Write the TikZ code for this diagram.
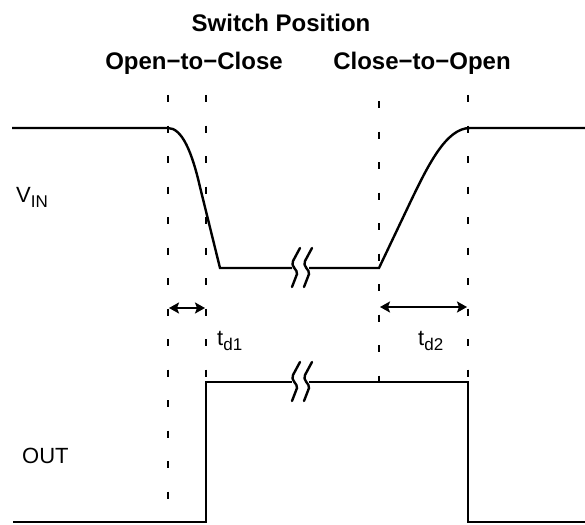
\documentclass[tikz,border=0pt]{standalone}
\usepackage{fontspec}
\setmainfont{Liberation Sans}
\usetikzlibrary{arrows.meta}
\begin{document}
\begin{tikzpicture}[x=1pt,y=-1pt,
  sig/.style={line width=2.4pt, line join=miter},
  guide/.style={line width=2pt, dash pattern=on 7pt off 23.5pt},
  brk/.style={line width=2.4pt, line cap=round},
  dimarrow/.style={line width=2.4pt, {Stealth[length=10pt,width=11pt,inset=2pt]}-{Stealth[length=10pt,width=11pt,inset=2pt]}},
  title/.style={font=\bfseries\fontsize{24}{28}\selectfont, inner sep=0pt},
  lbl/.style={font=\fontsize{22}{26}\selectfont, inner sep=0pt, anchor=base west}
]
\useasboundingbox (0,0) rectangle (585,524);
\newcommand{\sbx}[1]{\raisebox{-5pt}{\fontsize{17}{20}\selectfont #1}}
% titles
\node[title, anchor=base] (tsw) at (281,32) {Switch Position};
\node[title, anchor=base] (toc) at (194,70) {Open−to−Close};
\node[title, anchor=base] (tco) at (422,70) {Close−to−Open};
% labels
\node[lbl] (vin) at (16,202) {V\sbx{IN}};
\node[lbl] (out) at (22,463) {OUT};
\node[lbl] (td1) at (217,345) {t\sbx{d1}};
\node[lbl] (td2) at (418,345) {t\sbx{d2}};
% guide coordinates
\coordinate (g1t) at (168,95);  \coordinate (g1b) at (168,522);
\coordinate (g2t) at (206,95);  \coordinate (g2b) at (206,382);
\coordinate (g3t) at (379,101); \coordinate (g3b) at (379,382);
\coordinate (g4t) at (468,95);  \coordinate (g4b) at (468,382);
\draw[guide] (g1t) -- (g1b);
\draw[guide] (g2t) -- (g2b);
\draw[guide] (g3t) -- (g3b);
\draw[guide] (g4t) -- (g4b);
% VIN waveform
\coordinate (vs) at (12,128);
\coordinate (vf) at (168,128);
\coordinate (vl1) at (220,268);
\coordinate (vb1) at (292,268);
\coordinate (vb2) at (309,268);
\coordinate (vr) at (379,268);
\coordinate (vh) at (470,128);
\coordinate (ve) at (585,128);
\draw[sig] (vs) -- (vf) .. controls (182,128) and (192,152) .. (200,187) -- (vl1) -- (vb1);
\draw[sig] (vb2) -- (vr) -- (408,207) .. controls (428,165) and (446,128) .. (vh) -- (ve);
% breaks on VIN
\foreach \cx in {292,304}{
  \draw[brk] (\cx+8,248) -- (\cx+1,261) .. controls (\cx-2,266) and (\cx+6,270) .. (\cx+5,274) -- (\cx,287);
}
% OUT waveform
\coordinate (os) at (13,522);
\coordinate (or1) at (206,522);
\coordinate (oh1) at (206,382);
\coordinate (ob1) at (292,382);
\coordinate (ob2) at (309,382);
\coordinate (oh2) at (468,382);
\coordinate (of) at (468,522);
\coordinate (oe) at (585,522);
\draw[sig] (os) -- (or1) -- (oh1) -- (ob1);
\draw[sig] (ob2) -- (oh2) -- (of) -- (oe);
\foreach \cx in {292,304}{
  \draw[brk] (\cx+8,362) -- (\cx+1,375) .. controls (\cx-2,380) and (\cx+6,384) .. (\cx+5,388) -- (\cx,401);
}
% delay arrows
\coordinate (a1l) at (169,308); \coordinate (a1r) at (205,308);
\coordinate (a2l) at (380,307); \coordinate (a2r) at (467,307);
\draw[dimarrow] (a1l) -- (a1r);
\draw[dimarrow] (a2l) -- (a2r);
\end{tikzpicture}
\end{document}
